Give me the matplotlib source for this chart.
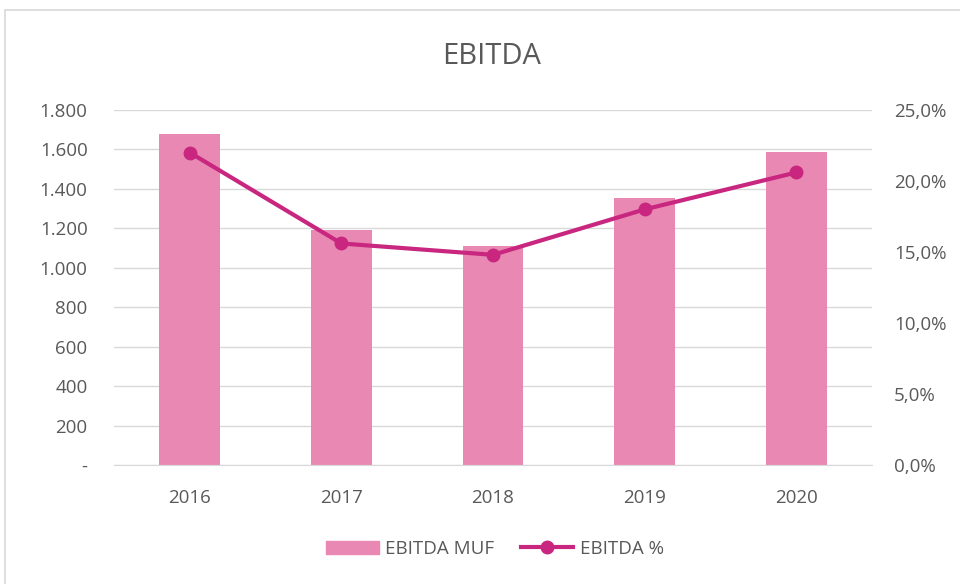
import matplotlib
matplotlib.use("Agg")
import matplotlib.pyplot as plt
from matplotlib.patches import Rectangle
from matplotlib.lines import Line2D
from matplotlib.ticker import FuncFormatter

# data
years = ["2016", "2017", "2018", "2019", "2020"]
ebitda_muf = [1680, 1193, 1108, 1353, 1588]
ebitda_pct = [22.0, 15.6, 14.8, 18.0, 20.6]

bar_color = "#E989B3"
line_color = "#C9267F"
text_color = "#595959"
grid_color = "#D9D9D9"

plt.rcParams["font.family"] = ["Open Sans", "DejaVu Sans"]

fig = plt.figure(figsize=(9.6, 5.84), dpi=100)
# chart border like the Excel chart area
fig.patches.append(Rectangle((5 / 960, -0.05), 1.1, 1 - 10 / 584 + 0.05,
                             transform=fig.transFigure, fill=False,
                             edgecolor="#D9D9D9", linewidth=1.2))

ax = fig.add_axes([114 / 960, 1 - 465 / 584, (872 - 114) / 960, (465 - 110) / 584])
x = range(len(years))
ax.bar(x, ebitda_muf, width=0.4, color=bar_color, zorder=2)
ax.set_xlim(-0.5, len(years) - 0.5)
ax.set_ylim(0, 1800)
ax.set_yticks(range(0, 1801, 200))


def thousands(v, pos):
    if v == 0:
        return "-"
    return f"{int(v):,}".replace(",", ".")


ax.yaxis.set_major_formatter(FuncFormatter(thousands))
ax.set_xticks(list(x))
ax.set_xticklabels(years)
ax.grid(axis="y", color=grid_color, linewidth=1, zorder=0)
for s in ax.spines.values():
    s.set_visible(False)
ax.spines["bottom"].set_visible(True)
ax.spines["bottom"].set_color(grid_color)
ax.tick_params(axis="both", length=0, labelsize=13.5, colors=text_color)
ax.tick_params(axis="y", pad=19)
ax.tick_params(axis="x", pad=17)

ax2 = ax.twinx()
ax2.plot(list(x), ebitda_pct, color=line_color, linewidth=3, marker="o",
         markersize=9, zorder=3)
ax2.set_ylim(0, 25)
ax2.set_yticks(range(0, 26, 5))
ax2.yaxis.set_major_formatter(FuncFormatter(lambda v, p: f"{v:.1f}%".replace(".", ",")))
for s in ax2.spines.values():
    s.set_visible(False)
ax2.tick_params(axis="y", length=0, labelsize=13.5, colors=text_color, pad=16)

fig.text(492 / 960, 1 - 57 / 584, "EBITDA", ha="center", va="center",
         fontsize=21, color=text_color)

handles = [Rectangle((0, 0), 1, 1, color=bar_color),
           Line2D([], [], color=line_color, linewidth=3, marker="o", markersize=9)]
fig.legend(handles, ["EBITDA MUF", "EBITDA %"], loc="center",
           bbox_to_anchor=(495 / 960, 1 - 549 / 584), ncol=2, frameon=False,
           fontsize=13.5, labelcolor=text_color, handlelength=2.8,
           handletextpad=0.35, columnspacing=1.4)

fig.savefig("out.png", dpi=100)
